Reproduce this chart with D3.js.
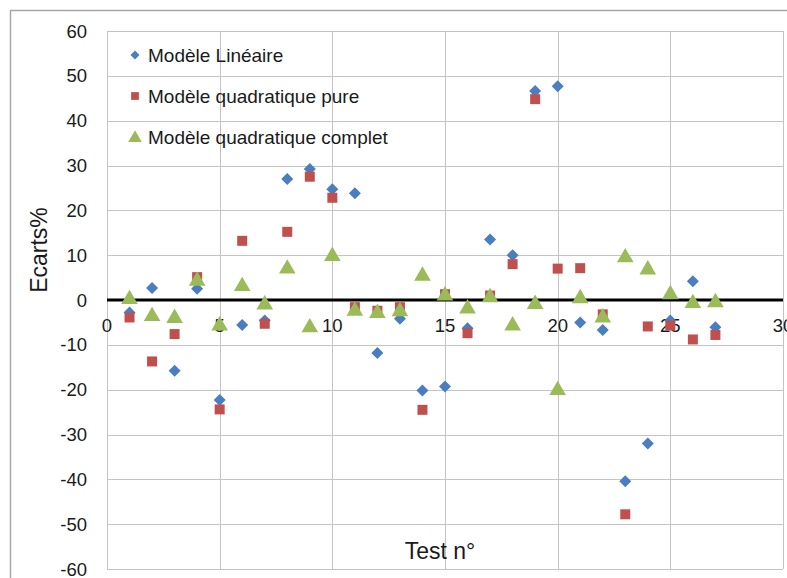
<!DOCTYPE html>
<html>
<head>
<meta charset="utf-8">
<script src="https://cdn.jsdelivr.net/npm/d3@7"></script>
<style>
html,body{margin:0;padding:0;background:#fff;}
svg{display:block;}
text{font-family:"Liberation Sans",Arial,sans-serif;fill:#1a1a1a;}
</style>
</head>
<body>
<svg id="chart" width="787" height="578"></svg>
<script>
const tests = d3.range(1, 28);
const lineaire = [-2.8, 2.7, -15.8, 2.5, -22.3, -5.6, -4.6, 27.0, 29.2, 24.7, 23.8, -11.8, -4.2, -20.2, -19.3, -6.3, 13.5, 10.0, 46.6, 47.7, -5.0, -6.7, -40.4, -32.0, -4.6, 4.2, -6.1];
const quadPure = [-3.9, -13.7, -7.6, 5.1, -24.4, 13.2, -5.3, 15.2, 27.5, 22.8, -1.6, -2.4, -1.6, -24.5, 1.3, -7.4, 1.0, 8.0, 44.8, 7.0, 7.1, -3.2, -47.8, -5.9, -5.7, -8.8, -7.8];
const quadComplet = [0.5, -3.3, -3.7, 4.6, -5.4, 3.4, -0.7, 7.3, -5.8, 10.1, -2.1, -2.6, -2.2, 5.7, 1.3, -1.6, 0.9, -5.4, -0.6, -19.8, 0.7, -3.6, 9.8, 7.1, 1.6, -0.4, -0.2];
const xTicks = [0, 5, 10, 15, 20, 25, 30];
const yTicks = [-60, -50, -40, -30, -20, -10, 0, 10, 20, 30, 40, 50, 60];
const seriesNames = ["Modèle Linéaire", "Modèle quadratique pure", "Modèle quadratique complet"];
const seriesColors = ["#4A7EBF", "#C0504D", "#9BBB59"];
const seriesShapes = [d3.symbolSquare, d3.symbolSquare, d3.symbolTriangle];
const seriesRot = [45, 0, 0];
const seriesSizes = [72, 100, 120];
const legendSizes = [40, 60, 80];
const seriesData = [lineaire, quadPure, quadComplet];

const svg = d3.select("#chart");
const L = 107, R = 783, T = 31, B = 569;
const x = d3.scaleLinear().domain([0, 30]).range([L, R]);
const y = d3.scaleLinear().domain([-60, 60]).range([B, T]);

// outer chart border
svg.append("path").attr("d", `M10.5,578 L10.5,10.5 L787,10.5`)
  .attr("fill", "none").attr("stroke", "#a6a6a6").attr("stroke-width", 1.5);

// gridlines
const g = svg.append("g");
g.selectAll(".hg").data(yTicks).join("line")
  .attr("x1", L).attr("x2", R)
  .attr("y1", d => Math.round(y(d)) + 0.5).attr("y2", d => Math.round(y(d)) + 0.5)
  .attr("stroke", "#c4c4c4").attr("stroke-width", 1);
g.selectAll(".vg").data(xTicks).join("line")
  .attr("y1", T).attr("y2", B)
  .attr("x1", d => Math.round(x(d)) + 0.5).attr("x2", d => Math.round(x(d)) + 0.5)
  .attr("stroke", "#c4c4c4").attr("stroke-width", 1);

// y tick labels
svg.append("g").selectAll("text").data(yTicks).join("text")
  .attr("x", 87).attr("y", d => y(d)).attr("dy", "0.36em")
  .attr("text-anchor", "end").attr("font-size", 18.5)
  .text(d => d);

// zero line (x axis)
svg.append("line").attr("x1", L).attr("x2", R)
  .attr("y1", y(0)).attr("y2", y(0))
  .attr("stroke", "#000").attr("stroke-width", 3);

// x tick labels
svg.append("g").selectAll("text").data(xTicks).join("text")
  .attr("x", d => x(d)).attr("y", y(0) + 25)
  .attr("dy", "0.36em").attr("text-anchor", "middle").attr("font-size", 18.5)
  .text(d => d);

// markers
seriesData.forEach((vals, si) => {
  svg.append("g").selectAll("path").data(vals).join("path")
    .attr("transform", (d, i) => `translate(${x(tests[i])},${y(d) + (si === 2 ? 1.5 : 0)}) rotate(${seriesRot[si]})`)
    .attr("d", d3.symbol().type(seriesShapes[si]).size(seriesSizes[si]))
    .attr("fill", seriesColors[si]);
});

// legend
const leg = svg.append("g");
seriesNames.forEach((n, i) => {
  const cy = 55 + i * 41;
  leg.append("path")
    .attr("transform", `translate(135,${cy + (i === 2 ? 1 : 0)}) rotate(${seriesRot[i]})`)
    .attr("d", d3.symbol().type(seriesShapes[i]).size(legendSizes[i]))
    .attr("fill", seriesColors[i]);
  leg.append("text").attr("x", 148).attr("y", cy).attr("dy", "0.36em")
    .attr("font-size", 19).text(n);
});

// axis titles
svg.append("text").attr("transform", "translate(47,250) rotate(-90)")
  .attr("text-anchor", "middle").attr("font-size", 23).text("Ecarts%");
svg.append("text").attr("x", 440).attr("y", 559)
  .attr("text-anchor", "middle").attr("font-size", 23).text("Test n°");
</script>
</body>
</html>
